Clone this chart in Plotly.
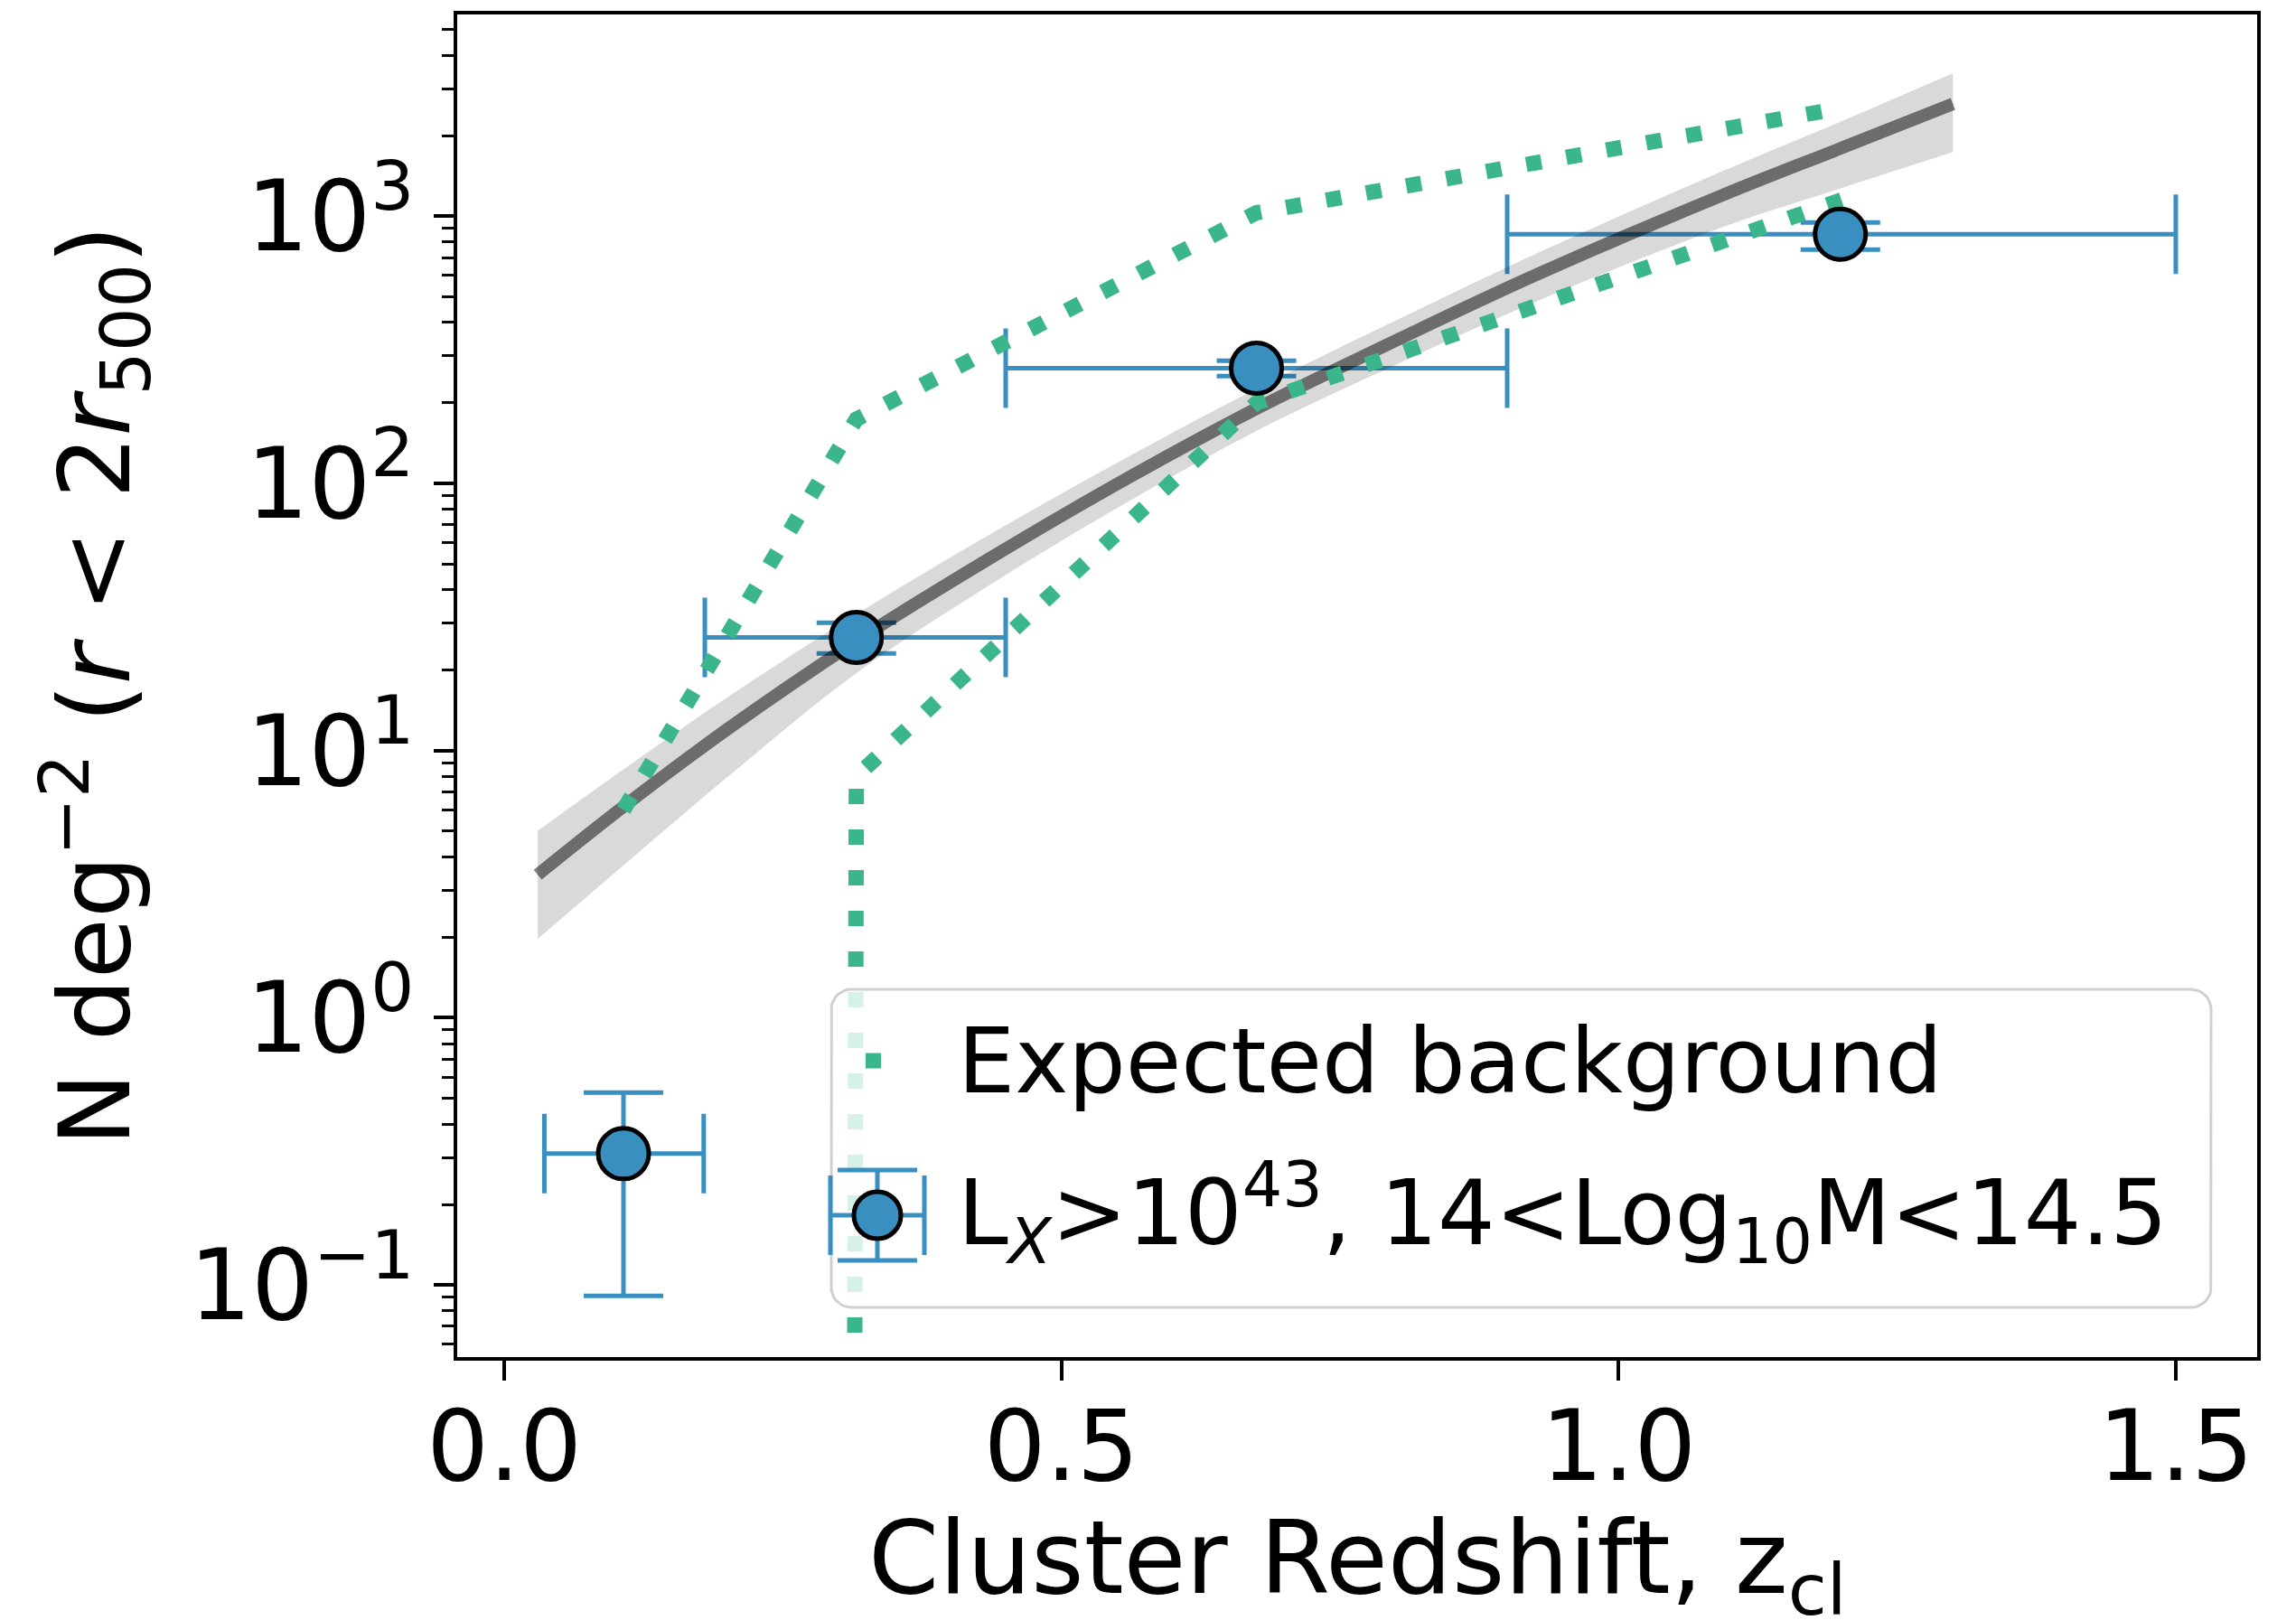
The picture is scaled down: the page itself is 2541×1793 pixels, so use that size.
import numpy as np
import plotly.graph_objects as go

# ---------------- data ----------------
# binned measurements
z_center = [0.107, 0.316, 0.675, 1.199]
z_low = [0.036, 0.180, 0.450, 0.900]
z_high = [0.179, 0.450, 0.900, 1.500]
n_density = [0.31, 26.5, 270.0, 856.0]
n_low = [0.091, 23.1, 252.0, 750.0]
n_high = [0.525, 30.1, 288.0, 947.0]

# best-fit model curve and its uncertainty band
fit_z = [0.03, 0.107, 0.2, 0.316, 0.434, 0.551, 0.675, 0.808, 0.926, 1.094, 1.2, 1.30]
fit_n = [3.43, 6.17, 12.0, 25.7, 51.9, 100.0, 190.5, 355.0, 603.0, 1202.0, 1799.0, 2630.0]
fit_upper = [5.01, 8.51, 15.8, 32.4, 63.8, 120.0, 226.0, 422.0, 724.0, 1479.0, 2265.0, 3428.0]
fit_lower = [1.97, 3.72, 7.94, 19.5, 41.2, 81.3, 157.0, 288.0, 479.0, 912.0, 1274.0, 1738.0]

# expected background envelope (lower value in first bin is non-positive)
bg_z = [0.107, 0.316, 0.675, 1.2]
bg_upper = [6.0, 174.0, 1030.0, 2540.0]
bg_lower = [0.0, 8.0, 200.0, 1150.0]

# axis ticks
x_tickvals = [0.0, 0.5, 1.0, 1.5]
x_ticktext = ["0.0", "0.5", "1.0", "1.5"]
y_tickvals = [0.1, 1, 10, 100, 1000]
y_ticktext = ["10<sup>\u22121</sup>", "10<sup>0</sup>", "10<sup>1</sup>", "10<sup>2</sup>", "10<sup>3</sup>"]

x_title = "Cluster Redshift, z<sub>cl</sub>"
y_title = "N deg<sup>\u22122</sup> (<i>r</i> &lt; 2<i>r</i><sub>500</sub>)"
label_bg = "Expected background"
label_data = "L<sub><i>X</i></sub>&gt;10<sup>43</sup>, 14&lt;Log<sub>10</sub>M&lt;14.5"

# ---------------- styles ----------------
BLUE = "#3a8fc1"
GREEN = "#3bb68a"
FONT = "DejaVu Sans"
FS_TICK = 108
FS_XTITLE = 112
FS_YTITLE = 109
FS_LEG = 100
W, H = 2541, 1793
ML, MR, MT, MB = 506, 43, 16, 291
PLOT_H = H - MT - MB

zc = np.array(z_center)
nd = np.array(n_density)
# matplotlib-like clipping of non-positive values on a log axis
bg_lower_plot = np.where(np.array(bg_lower) > 0, np.array(bg_lower), 1e-300)

fig = go.Figure()

# error bars (drawn beneath the model)
fig.add_trace(go.Scatter(
    x=z_center, y=n_density, mode="markers",
    marker=dict(size=2, color=BLUE, opacity=0),
    error_x=dict(type="data", symmetric=False,
                 array=list(np.array(z_high) - zc), arrayminus=list(zc - np.array(z_low)),
                 color=BLUE, thickness=5, width=44),
    error_y=dict(type="data", symmetric=False,
                 array=list(np.array(n_high) - nd), arrayminus=list(nd - np.array(n_low)),
                 color=BLUE, thickness=5, width=44),
    showlegend=False, hoverinfo="skip"))

# uncertainty band
fig.add_trace(go.Scatter(x=fit_z, y=fit_lower, mode="lines", line=dict(width=0, shape="spline"),
                         showlegend=False, hoverinfo="skip"))
fig.add_trace(go.Scatter(x=fit_z, y=fit_upper, mode="lines", line=dict(width=0, shape="spline"),
                         fill="tonexty", fillcolor="rgba(0,0,0,0.15)", showlegend=False, hoverinfo="skip"))
# model curve
fig.add_trace(go.Scatter(x=fit_z, y=fit_n, mode="lines",
                         line=dict(color="rgba(0,0,0,0.5)", width=14, shape="spline"),
                         showlegend=False))

# expected background envelope
dot_style = dict(color=GREEN, width=17, dash="17px,28px")
fig.add_trace(go.Scatter(x=bg_z, y=bg_upper, mode="lines", line=dot_style, name=label_bg, showlegend=False))
fig.add_trace(go.Scatter(x=bg_z, y=bg_lower_plot, mode="lines", line=dot_style, showlegend=False))

# data markers
fig.add_trace(go.Scatter(x=z_center, y=n_density, mode="markers", name=label_data,
                         marker=dict(size=56, color=BLUE, line=dict(color="black", width=5)),
                         showlegend=False))

# ---------------- legend (drawn on a hidden pixel-coordinate overlay) ----------------
LX0, LX1, LY0, LY1, LR = 920, 2447, 1095, 1447, 22
ang = np.linspace(0, np.pi / 2, 10)
bx, by = [], []
for cx, cy, a0 in [(LX1 - LR, LY0 + LR, -np.pi / 2), (LX1 - LR, LY1 - LR, 0.0),
                   (LX0 + LR, LY1 - LR, np.pi / 2), (LX0 + LR, LY0 + LR, np.pi)]:
    bx += list(cx + LR * np.cos(a0 + ang))
    by += list(cy + LR * np.sin(a0 + ang))
bx.append(bx[0]); by.append(by[0])
fig.add_trace(go.Scatter(x=bx, y=by, xaxis="x2", yaxis="y2", mode="lines", fill="toself",
                         fillcolor="rgba(255,255,255,0.8)", line=dict(color="#d0d0d0", width=3),
                         showlegend=False, hoverinfo="skip"))
ROW1, ROW2, KEYX, TXTX = 1174, 1342, 971, 1058
fig.add_trace(go.Scatter(x=[KEYX - 13, KEYX + 32], y=[ROW1, ROW1], xaxis="x2", yaxis="y2",
                         mode="lines", line=dot_style, showlegend=False, hoverinfo="skip"))
fig.add_trace(go.Scatter(x=[KEYX], y=[ROW2 + 3], xaxis="x2", yaxis="y2", mode="markers",
                         marker=dict(size=52, color=BLUE, line=dict(color="black", width=5)),
                         error_x=dict(type="constant", value=52, color=BLUE, thickness=5, width=44),
                         error_y=dict(type="constant", value=50, color=BLUE, thickness=5, width=44),
                         showlegend=False, hoverinfo="skip"))

fig.add_annotation(x=TXTX, y=ROW1, xref="x2", yref="y2", text=label_bg, showarrow=False,
                   xanchor="left", yanchor="middle", font=dict(family=FONT, size=FS_LEG, color="black"))
fig.add_annotation(x=TXTX, y=ROW2, xref="x2", yref="y2", text=label_data, showarrow=False,
                   xanchor="left", yanchor="middle", font=dict(family=FONT, size=FS_LEG, color="black"))

# x-axis title (placed as an annotation so it is not squeezed by the margin)
XTITLE_TOP_PX = 1657
fig.add_annotation(x=0.5, y=-(XTITLE_TOP_PX - (H - MB)) / PLOT_H, xref="paper", yref="paper",
                   text=x_title, showarrow=False, xanchor="center", yanchor="top",
                   font=dict(family=FONT, size=FS_XTITLE, color="black"))

axis_common = dict(showline=True, linecolor="black", linewidth=4, mirror=True, showgrid=False,
                   zeroline=False, ticks="outside", ticklen=22, tickwidth=4, tickcolor="black",
                   tickfont=dict(family=FONT, size=FS_TICK, color="black"))

minor_vals = [m * 10.0 ** d for d in range(-2, 4) for m in range(2, 10)]

hidden = dict(visible=False, fixedrange=True, showticklabels=False, ticks="", showgrid=False,
              zeroline=False)

fig.update_layout(
    width=W, height=H, margin=dict(l=ML, r=MR, t=MT, b=MB, autoexpand=False),
    paper_bgcolor="white", plot_bgcolor="white",
    font=dict(family=FONT, size=FS_LEG, color="black"),
    showlegend=False,
    xaxis=dict(range=[-0.0422, 1.573], tickvals=x_tickvals, ticktext=x_ticktext,
               ticklabelstandoff=-20, **axis_common),
    yaxis=dict(type="log", range=[-1.27, 3.755], tickvals=y_tickvals, ticktext=y_ticktext,
               minor=dict(tickvals=minor_vals, ticks="outside", ticklen=13, tickwidth=3,
                          tickcolor="black", showgrid=False),
               title=dict(text=y_title, font=dict(family=FONT, size=FS_YTITLE), standoff=30),
               **axis_common),
    xaxis2=dict(overlaying="x", range=[ML, W - MR], **hidden),
    yaxis2=dict(overlaying="y", range=[H - MB, MT], **hidden),
)

fig.write_html("out.html")
